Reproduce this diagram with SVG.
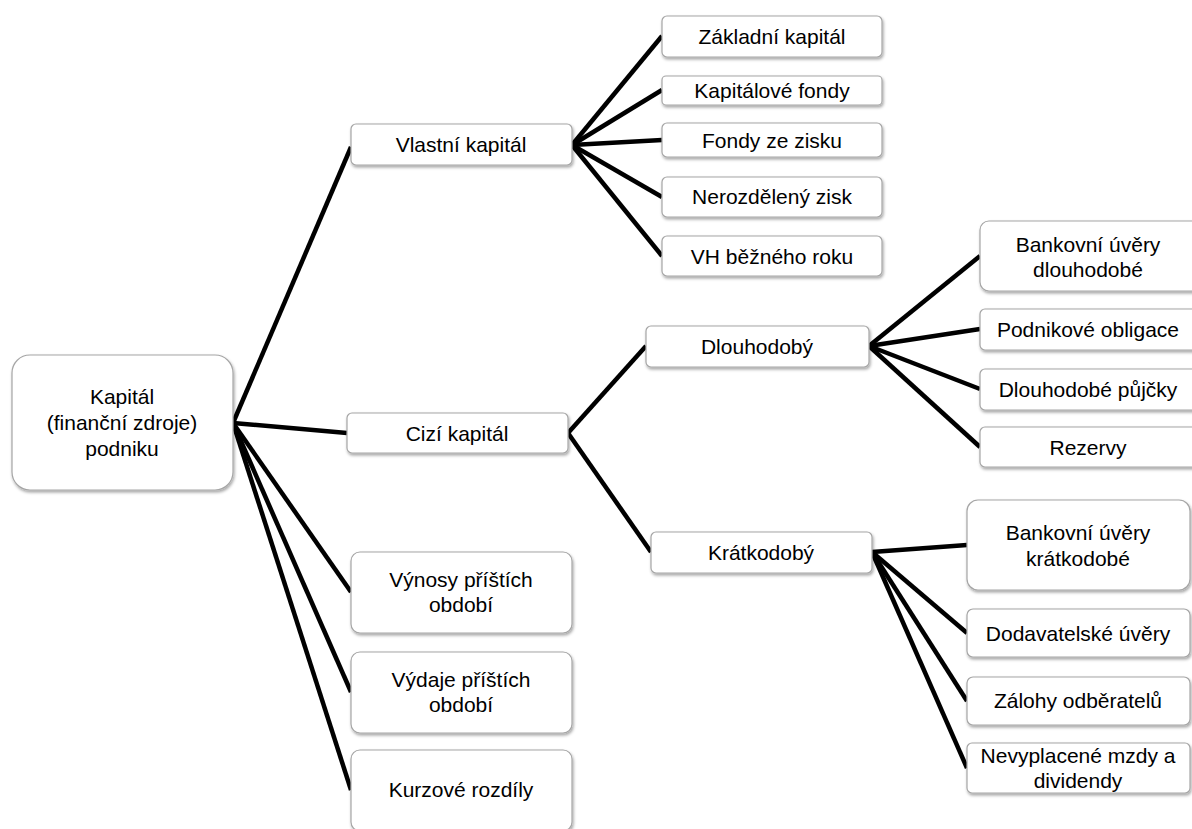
<svg xmlns="http://www.w3.org/2000/svg" width="1192" height="829" viewBox="0 0 1192 829">
<defs>
<filter id="sh" x="-10%" y="-10%" width="130%" height="140%">
<feDropShadow dx="1" dy="2" stdDeviation="1.5" flood-color="#000" flood-opacity="0.35"/>
</filter>
<style>
.box{fill:#fff;stroke:#a6a6a6;stroke-width:1.2;filter:url(#sh)}
.t{font-family:"Liberation Sans",Arial,sans-serif;font-size:21px;fill:#000;text-anchor:middle}
.c line{stroke:#000;stroke-width:4.5;stroke-linecap:butt}
</style>
</defs>
<rect width="1192" height="829" fill="#fff"/>
<g class="c" id="connectors">
<line x1="233" y1="423" x2="351" y2="147"/>
<line x1="233" y1="423" x2="347" y2="433"/>
<line x1="233" y1="423" x2="351" y2="592"/>
<line x1="233" y1="423" x2="351" y2="692"/>
<line x1="233" y1="423" x2="351" y2="790"/>
<line x1="572" y1="145" x2="662" y2="36"/>
<line x1="572" y1="145" x2="662" y2="90"/>
<line x1="572" y1="145" x2="662" y2="140"/>
<line x1="572" y1="145" x2="662" y2="197"/>
<line x1="572" y1="145" x2="662" y2="256"/>
<line x1="568" y1="433" x2="646" y2="346"/>
<line x1="568" y1="433" x2="651" y2="552"/>
<line x1="869" y1="346" x2="980" y2="256"/>
<line x1="869" y1="346" x2="980" y2="329"/>
<line x1="869" y1="346" x2="980" y2="389"/>
<line x1="869" y1="346" x2="980" y2="447"/>
<line x1="872" y1="552" x2="967" y2="545"/>
<line x1="872" y1="552" x2="967" y2="633"/>
<line x1="872" y1="552" x2="967" y2="701"/>
<line x1="872" y1="552" x2="967" y2="768"/>
</g>
<g id="root"><rect class="box" x="12" y="355" width="221" height="135" rx="18"/>
<text class="t" x="122" y="404">Kapitál</text><text class="t" x="122" y="430">(finanční zdroje)</text><text class="t" x="122" y="456">podniku</text></g>
<g id="vlastni"><rect class="box" x="351" y="124" width="221" height="41" rx="5"/><text class="t" x="461" y="152">Vlastní kapitál</text></g>
<g id="cizi"><rect class="box" x="347" y="413" width="221" height="40" rx="5"/><text class="t" x="457" y="441">Cizí kapitál</text></g>
<g id="vynosy"><rect class="box" x="351" y="552" width="221" height="81" rx="9"/><text class="t" x="461" y="587">Výnosy příštích</text><text class="t" x="461" y="612">období</text></g>
<g id="vydaje"><rect class="box" x="351" y="652" width="221" height="81" rx="9"/><text class="t" x="461" y="687">Výdaje příštích</text><text class="t" x="461" y="712">období</text></g>
<g id="kurzove"><rect class="box" x="351" y="750" width="221" height="81" rx="9"/><text class="t" x="461" y="797">Kurzové rozdíly</text></g>
<g id="zakladni"><rect class="box" x="662" y="16" width="220" height="41" rx="5"/><text class="t" x="772" y="44">Základní kapitál</text></g>
<g id="kapfondy"><rect class="box" x="662" y="76" width="220" height="29" rx="4"/><text class="t" x="772" y="98">Kapitálové fondy</text></g>
<g id="fondyzisk"><rect class="box" x="662" y="123" width="220" height="34" rx="5"/><text class="t" x="772" y="148">Fondy ze zisku</text></g>
<g id="nerozdeleny"><rect class="box" x="662" y="177" width="220" height="40" rx="5"/><text class="t" x="772" y="204">Nerozdělený zisk</text></g>
<g id="vh"><rect class="box" x="662" y="236" width="220" height="40" rx="5"/><text class="t" x="772" y="264">VH běžného roku</text></g>
<g id="dlouhodoby"><rect class="box" x="646" y="326" width="223" height="41" rx="5"/><text class="t" x="757" y="354">Dlouhodobý</text></g>
<g id="kratkodoby"><rect class="box" x="651" y="532" width="221" height="41" rx="5"/><text class="t" x="761" y="560">Krátkodobý</text></g>
<g id="bankdl"><rect class="box" x="980" y="221" width="225" height="70" rx="9"/><text class="t" x="1088" y="252">Bankovní úvěry</text><text class="t" x="1088" y="277">dlouhodobé</text></g>
<g id="obligace"><rect class="box" x="980" y="309" width="225" height="41" rx="5"/><text class="t" x="1088" y="337">Podnikové obligace</text></g>
<g id="pujcky"><rect class="box" x="980" y="369" width="225" height="41" rx="5"/><text class="t" x="1088" y="397">Dlouhodobé půjčky</text></g>
<g id="rezervy"><rect class="box" x="980" y="427" width="225" height="40" rx="5"/><text class="t" x="1088" y="455">Rezervy</text></g>
<g id="bankkr"><rect class="box" x="967" y="500" width="223" height="90" rx="11"/><text class="t" x="1078" y="540">Bankovní úvěry</text><text class="t" x="1078" y="566">krátkodobé</text></g>
<g id="dodavatelske"><rect class="box" x="967" y="609" width="223" height="48" rx="6"/><text class="t" x="1078" y="641">Dodavatelské úvěry</text></g>
<g id="zalohy"><rect class="box" x="967" y="677" width="223" height="48" rx="6"/><text class="t" x="1078" y="708">Zálohy odběratelů</text></g>
<g id="nevyplacene"><rect class="box" x="967" y="743" width="223" height="50" rx="5"/><text class="t" x="1078" y="763">Nevyplacené mzdy a</text><text class="t" x="1078" y="788">dividendy</text></g>
</svg>
